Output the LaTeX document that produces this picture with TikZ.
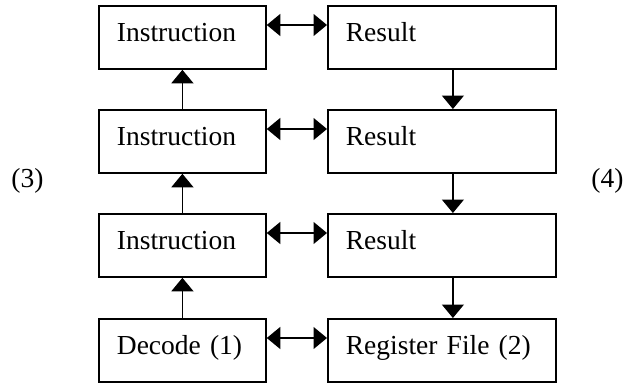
\documentclass[tikz,border=0pt]{standalone}
\usepackage{fontspec}
\setmainfont{Liberation Serif}
\usetikzlibrary{arrows.meta}
\tikzset{
  stage/.style={draw, rectangle, line width=1.8pt, anchor=north west,
    inner xsep=18pt, inner ysep=0pt, minimum height=63pt,
    text height=19pt, text depth=10pt, align=left,
    font=\fontsize{27.5}{30}\selectfont},
  leftbox/.style={stage, text width=131pt},
  rightbox/.style={stage, text width=192pt},
  flow/.style={line width=1.3pt, -{Triangle[length=13.5pt,width=22pt]}},
  link/.style={line width=1.3pt, {Triangle[length=13.5pt,width=22pt]}-{Triangle[length=13.5pt,width=22pt]}},
  tag/.style={anchor=base, inner sep=0pt, font=\fontsize{27.5}{30}\selectfont}
}
\begin{document}
\begin{tikzpicture}[x=1pt,y=-1pt]
  \useasboundingbox (0,0) rectangle (627,383);

  % instruction column
  \node[leftbox] (i1) at (98,5)   {Instruction};
  \node[leftbox] (i2) at (98,109) {Instruction};
  \node[leftbox] (i3) at (98,213) {Instruction};
  \node[leftbox] (dec) at (98,318) {Decode (1)};

  % result column
  \node[rightbox] (r1) at (327,5)   {Result};
  \node[rightbox] (r2) at (327,109) {Result};
  \node[rightbox] (r3) at (327,213) {Result};
  \node[rightbox] (rf) at (327,318) {Register File (2)};

  % side labels
  \node[tag] (t3) at (27.5,187) {(3)};
  \node[tag] (t4) at (607.5,187) {(4)};

  % upward flow through instructions
  \draw[flow] (dec.north) -- (i3.south);
  \draw[flow] (i3.north) -- (i2.south);
  \draw[flow] (i2.north) -- (i1.south);

  % downward flow through results
  \draw[flow] ([xshift=11pt]r1.south) -- ([xshift=11pt]r2.north);
  \draw[flow] ([xshift=11pt]r2.south) -- ([xshift=11pt]r3.north);
  \draw[flow] ([xshift=11pt]r3.south) -- ([xshift=11pt]rf.north);

  % links between rows
  \draw[link] ([yshift=-20pt]i1.north east) -- ([yshift=-20pt]r1.north west);
  \draw[link] ([yshift=-20pt]i2.north east) -- ([yshift=-20pt]r2.north west);
  \draw[link] ([yshift=-20pt]i3.north east) -- ([yshift=-20pt]r3.north west);
  \draw[link] ([yshift=-20pt]dec.north east) -- ([yshift=-20pt]rf.north west);
\end{tikzpicture}
\end{document}
